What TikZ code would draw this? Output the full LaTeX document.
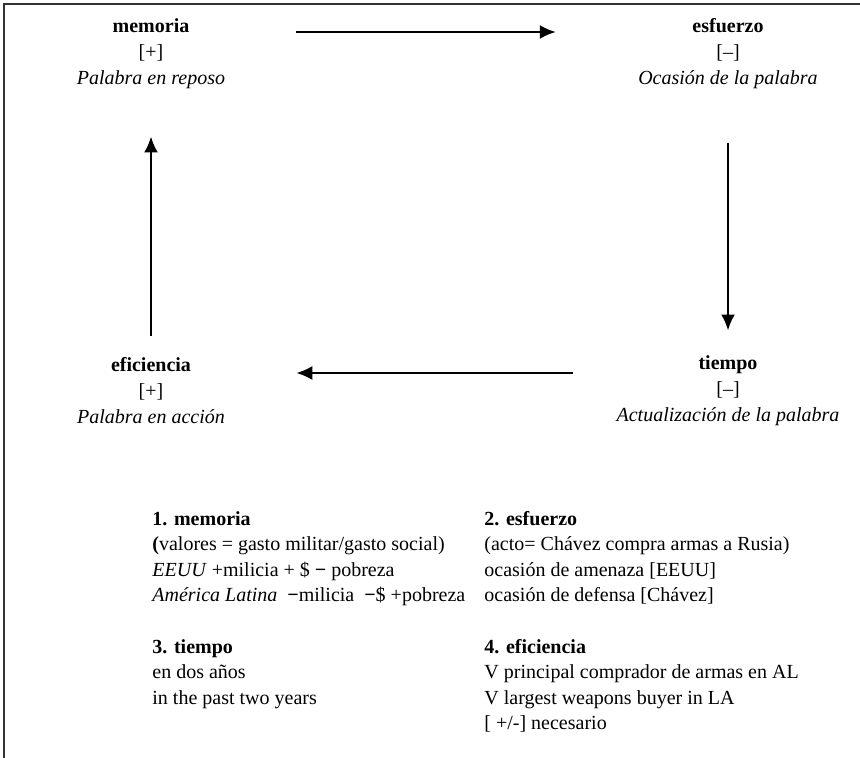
\documentclass[tikz,border=0pt]{standalone}
\usepackage{fontspec}
\setmainfont{Liberation Serif}
\usetikzlibrary{arrows.meta}
\begin{document}
\begin{tikzpicture}[>={Latex[length=8pt,width=7pt]}, x=0.5pt, y=-0.5pt]
        \tikzset{
            term/.style={align=center, inner sep=0pt, font=\fontsize{10pt}{13pt}\selectfont},
            notes/.style={align=left, anchor=north west, inner sep=0pt, font=\fontsize{10pt}{12.7pt}\selectfont},
            arrow/.style={->, line width=1.2pt}
        }
        \useasboundingbox (0,0) rectangle (860,758);
        \draw[line width=0.7pt, black!80] (4,758) -- (4,4) -- (860,4);

        \node[term] (memoria) at (151, 54) {\textbf{memoria}\\{}[+]\\\textit{Palabra en reposo}};
        \node[term] (esfuerzo) at (728, 54) {\textbf{esfuerzo}\\{}[–]\\\textit{Ocasión de la palabra}};
        \node[term] (tiempo) at (728, 391) {\textbf{tiempo}\\{}[–]\\\textit{Actualización de la palabra}};
        \node[term] (eficiencia) at (151, 391) {\textbf{eficiencia}\\{}[+]\\\textit{Palabra en acción}};

        \node[notes] (nota1) at (152, 511) {\textbf{1. memoria}\\\textbf{(}valores = gasto militar/gasto social)\\\textit{EEUU} +milicia + \$ \textbf{−} pobreza\\\textit{América Latina} \ \textbf{−}milicia \ \textbf{−}\$ +pobreza};
        \node[notes] (nota3) at (152, 639) {\textbf{3. tiempo}\\en dos años\\in the past two years};
        \node[notes] (nota2) at (484, 511) {\textbf{2. esfuerzo}\\(acto= Chávez compra armas a Rusia)\\ocasión de amenaza [EEUU]\\ocasión de defensa [Chávez]};
        \node[notes] (nota4) at (484, 639) {\textbf{4. eficiencia}\\V principal comprador de armas en AL\\V largest weapons buyer in LA\\{}[ +/-] necesario};

        \draw[arrow] ([xshift=35.5pt, yshift=11pt]memoria.east) -- ([xshift=-41pt, yshift=11pt]esfuerzo.west);
        \draw[arrow] ([yshift=-26.5pt]esfuerzo.south) -- ([yshift=12.5pt]tiempo.north);
        \draw[arrow] ([xshift=-21.5pt, yshift=9pt]tiempo.west) -- ([xshift=35.5pt, yshift=9pt]eficiencia.east);
        \draw[arrow] ([yshift=10.5pt]eficiencia.north) -- ([yshift=-23.5pt]memoria.south);
    \end{tikzpicture}
\end{document}
